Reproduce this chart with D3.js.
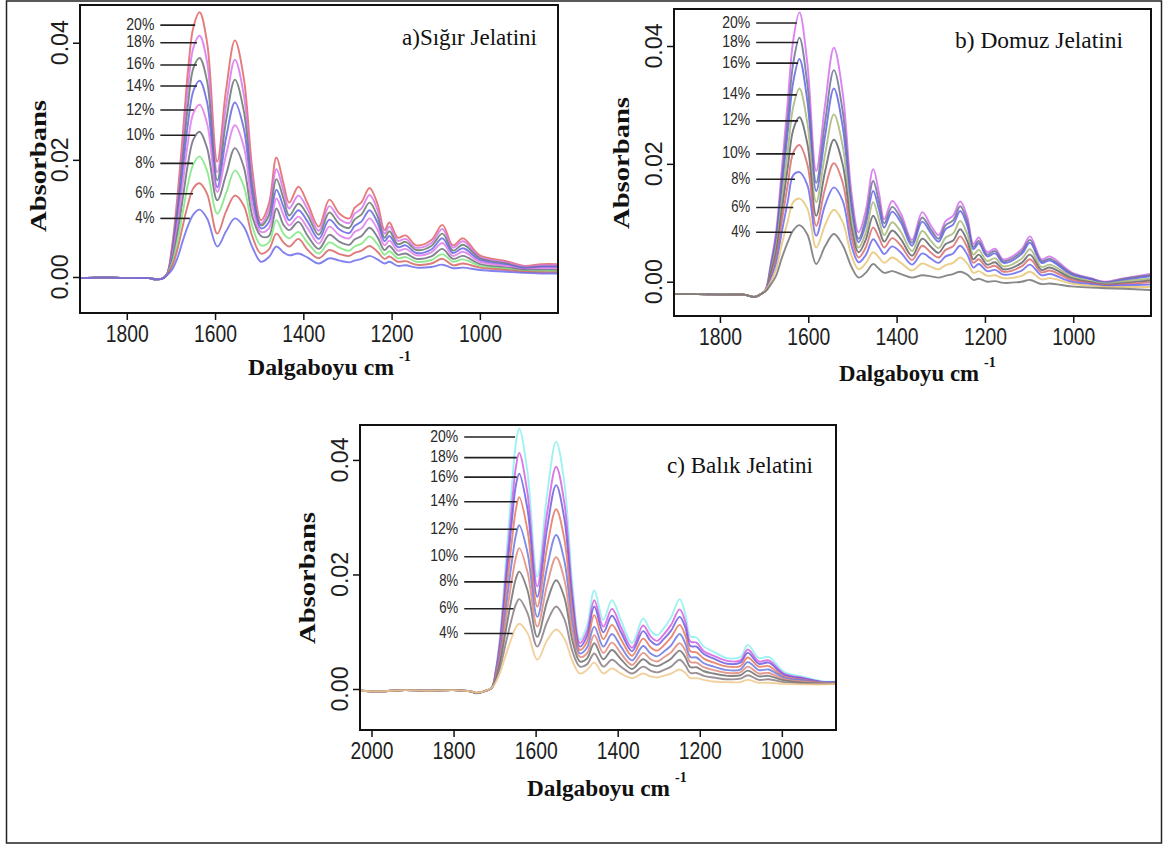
<!DOCTYPE html>
<html><head><meta charset="utf-8">
<script src="https://cdn.jsdelivr.net/npm/d3@7"></script>
<style>body{margin:0;background:#fff}svg{display:block}</style>
</head><body><svg id="chart" width="1168" height="847"></svg>
<script>
// ---------- data ----------
const percentLabels = ["20%","18%","16%","14%","12%","10%","8%","6%","4%"];
const xTicksAB = [1800,1600,1400,1200,1000];
const xTicksC = [2000,1800,1600,1400,1200,1000];
const yTicks = [0.00,0.02,0.04];

// a) Sığır Jelatini
const waveA = [1906,1850,1790,1750,1735,1720,1709,1697,1685,1673,1661,1649,1635,1618,1595,1575,1555,1535,1515,1496,1478,1461,1445,1432,1411,1390,1365,1341,1318,1296,1284,1268,1250,1232,1216,1205,1186,1168,1144,1110,1085,1061,1038,1000,940,900,860,823];
const a20 = [-0.0002,-0.0001,-0.0002,-0.0002,-0.0004,-0.0003,0.0005,0.0055,0.0140,0.0245,0.0355,0.0427,0.0452,0.0400,0.0197,0.0320,0.0404,0.0340,0.0180,0.0097,0.0125,0.0204,0.0160,0.0127,0.0154,0.0125,0.0086,0.0132,0.0108,0.0100,0.0118,0.0128,0.0152,0.0125,0.0080,0.0093,0.0067,0.0071,0.0054,0.0063,0.0089,0.0054,0.0066,0.0037,0.0027,0.0019,0.0022,0.0022];
const a18 = [-0.0002,-0.0001,-0.0002,-0.0002,-0.0004,-0.0003,0.0004,0.0050,0.0128,0.0225,0.0326,0.0392,0.0412,0.0367,0.0179,0.0293,0.0371,0.0312,0.0166,0.0091,0.0115,0.0184,0.0147,0.0117,0.0139,0.0115,0.0079,0.0121,0.0099,0.0092,0.0108,0.0117,0.0140,0.0115,0.0074,0.0086,0.0062,0.0065,0.0050,0.0058,0.0082,0.0050,0.0061,0.0034,0.0025,0.0018,0.0020,0.0020];
const a16 = [-0.0002,-0.0001,-0.0002,-0.0002,-0.0004,-0.0003,0.0004,0.0046,0.0116,0.0205,0.0296,0.0357,0.0374,0.0334,0.0165,0.0267,0.0337,0.0284,0.0151,0.0088,0.0105,0.0167,0.0134,0.0105,0.0125,0.0105,0.0072,0.0110,0.0090,0.0084,0.0098,0.0107,0.0127,0.0104,0.0067,0.0078,0.0056,0.0060,0.0046,0.0053,0.0074,0.0045,0.0055,0.0032,0.0023,0.0016,0.0018,0.0018];
const a14 = [-0.0002,-0.0001,-0.0002,-0.0002,-0.0004,-0.0003,0.0004,0.0041,0.0104,0.0183,0.0264,0.0318,0.0335,0.0298,0.0153,0.0238,0.0298,0.0254,0.0136,0.0083,0.0094,0.0149,0.0120,0.0097,0.0114,0.0094,0.0065,0.0098,0.0081,0.0075,0.0087,0.0095,0.0114,0.0093,0.0061,0.0070,0.0051,0.0054,0.0041,0.0047,0.0066,0.0041,0.0049,0.0029,0.0021,0.0015,0.0017,0.0017];
const a12 = [-0.0002,-0.0001,-0.0002,-0.0002,-0.0004,-0.0003,0.0004,0.0036,0.0091,0.0161,0.0232,0.0280,0.0294,0.0262,0.0145,0.0209,0.0259,0.0223,0.0120,0.0077,0.0083,0.0134,0.0106,0.0088,0.0103,0.0083,0.0057,0.0086,0.0071,0.0066,0.0077,0.0083,0.0100,0.0081,0.0054,0.0062,0.0045,0.0048,0.0037,0.0042,0.0058,0.0036,0.0043,0.0026,0.0019,0.0013,0.0015,0.0015];
const a10 = [-0.0002,-0.0001,-0.0002,-0.0002,-0.0004,-0.0003,0.0004,0.0030,0.0076,0.0135,0.0195,0.0235,0.0248,0.0220,0.0131,0.0175,0.0220,0.0188,0.0102,0.0070,0.0070,0.0117,0.0089,0.0080,0.0094,0.0070,0.0048,0.0072,0.0060,0.0055,0.0064,0.0070,0.0084,0.0068,0.0046,0.0053,0.0038,0.0040,0.0031,0.0035,0.0048,0.0031,0.0036,0.0022,0.0016,0.0012,0.0012,0.0012];
const a8 = [-0.0002,-0.0001,-0.0002,-0.0002,-0.0004,-0.0003,0.0004,0.0024,0.0062,0.0111,0.0160,0.0193,0.0206,0.0181,0.0108,0.0143,0.0182,0.0155,0.0085,0.0054,0.0059,0.0097,0.0074,0.0066,0.0077,0.0058,0.0040,0.0059,0.0050,0.0045,0.0052,0.0057,0.0069,0.0056,0.0038,0.0044,0.0032,0.0034,0.0026,0.0029,0.0039,0.0026,0.0030,0.0019,0.0014,0.0010,0.0010,0.0010];
const a6 = [-0.0002,-0.0001,-0.0002,-0.0002,-0.0004,-0.0003,0.0004,0.0019,0.0048,0.0088,0.0125,0.0152,0.0160,0.0142,0.0074,0.0112,0.0139,0.0122,0.0068,0.0040,0.0047,0.0074,0.0059,0.0052,0.0065,0.0046,0.0032,0.0046,0.0039,0.0036,0.0041,0.0045,0.0053,0.0043,0.0031,0.0035,0.0026,0.0027,0.0021,0.0023,0.0031,0.0020,0.0023,0.0016,0.0012,0.0009,0.0008,0.0008];
const a4 = [-0.0002,-0.0001,-0.0002,-0.0002,-0.0004,-0.0003,0.0003,0.0013,0.0033,0.0062,0.0088,0.0107,0.0115,0.0100,0.0052,0.0078,0.0100,0.0086,0.0050,0.0026,0.0034,0.0052,0.0042,0.0037,0.0040,0.0033,0.0023,0.0032,0.0028,0.0025,0.0028,0.0031,0.0036,0.0030,0.0023,0.0026,0.0019,0.0020,0.0016,0.0017,0.0021,0.0015,0.0016,0.0012,0.0009,0.0007,0.0006,0.0006];
const labelValsA = [0.0430,0.0400,0.0362,0.0326,0.0285,0.0242,0.0194,0.0142,0.0100];
const labelEndsA = [1645,1641,1641,1641,1648,1645,1650,1650,1657];

// b) Domuz Jelatini
const waveB = [1905,1850,1790,1745,1722,1705,1696,1685,1673,1660,1646,1634,1620,1602,1582,1562,1542,1522,1502,1486,1470,1453,1440,1428,1410,1390,1365,1342,1322,1305,1289,1272,1256,1240,1226,1214,1195,1177,1158,1117,1098,1072,1053,1004,960,929,884,826];
const b20 = [-0.0021,-0.0021,-0.0022,-0.0022,-0.0026,-0.0020,-0.0012,0.0030,0.0084,0.0190,0.0310,0.0410,0.0457,0.0370,0.0188,0.0300,0.0397,0.0320,0.0150,0.0084,0.0120,0.0191,0.0151,0.0106,0.0137,0.0115,0.0071,0.0118,0.0095,0.0079,0.0103,0.0112,0.0136,0.0110,0.0064,0.0075,0.0050,0.0056,0.0038,0.0055,0.0077,0.0038,0.0043,0.0016,0.0006,0.0000,0.0006,0.0013];
const b18 = [-0.0021,-0.0021,-0.0022,-0.0022,-0.0026,-0.0020,-0.0014,0.0026,0.0075,0.0172,0.0281,0.0371,0.0414,0.0335,0.0168,0.0271,0.0359,0.0289,0.0135,0.0073,0.0107,0.0171,0.0136,0.0099,0.0127,0.0107,0.0066,0.0109,0.0088,0.0073,0.0096,0.0104,0.0128,0.0102,0.0059,0.0069,0.0046,0.0052,0.0035,0.0051,0.0071,0.0035,0.0039,0.0014,0.0005,-0.0001,0.0005,0.0011];
const b16 = [-0.0021,-0.0021,-0.0022,-0.0022,-0.0026,-0.0020,-0.0014,0.0022,0.0068,0.0157,0.0257,0.0339,0.0378,0.0306,0.0154,0.0247,0.0328,0.0263,0.0123,0.0067,0.0097,0.0154,0.0123,0.0092,0.0119,0.0100,0.0061,0.0102,0.0082,0.0068,0.0089,0.0097,0.0120,0.0095,0.0055,0.0065,0.0043,0.0048,0.0032,0.0047,0.0066,0.0032,0.0036,0.0012,0.0004,-0.0002,0.0003,0.0009];
const b14 = [-0.0021,-0.0021,-0.0022,-0.0022,-0.0026,-0.0020,-0.0014,0.0018,0.0058,0.0138,0.0225,0.0297,0.0328,0.0269,0.0135,0.0216,0.0284,0.0230,0.0106,0.0058,0.0083,0.0135,0.0106,0.0079,0.0101,0.0084,0.0052,0.0086,0.0069,0.0057,0.0075,0.0082,0.0103,0.0081,0.0046,0.0054,0.0035,0.0040,0.0026,0.0039,0.0055,0.0025,0.0029,0.0009,0.0001,-0.0003,0.0001,0.0005];
const b12 = [-0.0021,-0.0021,-0.0022,-0.0022,-0.0026,-0.0020,-0.0014,0.0014,0.0049,0.0120,0.0196,0.0258,0.0279,0.0234,0.0112,0.0187,0.0241,0.0199,0.0091,0.0050,0.0071,0.0112,0.0090,0.0068,0.0087,0.0072,0.0044,0.0073,0.0059,0.0049,0.0064,0.0070,0.0089,0.0069,0.0038,0.0046,0.0029,0.0033,0.0021,0.0032,0.0046,0.0020,0.0024,0.0006,-0.0001,-0.0005,-0.0002,0.0002];
const b10 = [-0.0021,-0.0021,-0.0022,-0.0022,-0.0026,-0.0020,-0.0014,0.0009,0.0040,0.0102,0.0167,0.0219,0.0232,0.0199,0.0095,0.0158,0.0201,0.0168,0.0076,0.0041,0.0058,0.0092,0.0075,0.0058,0.0074,0.0061,0.0037,0.0061,0.0049,0.0041,0.0054,0.0060,0.0077,0.0058,0.0032,0.0038,0.0024,0.0027,0.0017,0.0026,0.0038,0.0016,0.0019,0.0003,-0.0002,-0.0006,-0.0004,-0.0001];
const b8 = [-0.0021,-0.0021,-0.0022,-0.0022,-0.0026,-0.0020,-0.0014,0.0005,0.0031,0.0084,0.0138,0.0181,0.0186,0.0164,0.0078,0.0130,0.0160,0.0137,0.0061,0.0033,0.0045,0.0072,0.0059,0.0047,0.0060,0.0049,0.0029,0.0048,0.0039,0.0032,0.0043,0.0048,0.0061,0.0046,0.0024,0.0030,0.0018,0.0020,0.0012,0.0019,0.0029,0.0011,0.0013,0.0000,-0.0004,-0.0007,-0.0006,-0.0005];
const b6 = [-0.0021,-0.0021,-0.0022,-0.0022,-0.0026,-0.0020,-0.0014,0.0000,0.0021,0.0063,0.0104,0.0135,0.0141,0.0124,0.0058,0.0096,0.0122,0.0101,0.0044,0.0021,0.0031,0.0050,0.0041,0.0032,0.0041,0.0032,0.0019,0.0031,0.0025,0.0021,0.0028,0.0032,0.0041,0.0031,0.0015,0.0018,0.0010,0.0011,0.0006,0.0010,0.0017,0.0004,0.0006,-0.0003,-0.0007,-0.0009,-0.0009,-0.0009];
const b4 = [-0.0021,-0.0021,-0.0022,-0.0022,-0.0026,-0.0020,-0.0016,-0.0005,0.0010,0.0040,0.0068,0.0087,0.0096,0.0080,0.0030,0.0060,0.0081,0.0062,0.0025,0.0007,0.0015,0.0030,0.0022,0.0015,0.0018,0.0013,0.0007,0.0011,0.0009,0.0007,0.0010,0.0013,0.0017,0.0012,0.0003,0.0005,0.0000,0.0001,-0.0002,0.0000,0.0003,-0.0004,-0.0003,-0.0008,-0.0010,-0.0011,-0.0012,-0.0014];
const labelValsB = [0.0439,0.0406,0.0371,0.0317,0.0273,0.0217,0.0174,0.0126,0.0084];
const labelEndsB = [1626,1623,1623,1626,1623,1630,1630,1634,1638];

// c) Balık Jelatini
const waveC = [2028,1980,1920,1860,1800,1760,1745,1725,1707,1697,1687,1671,1658,1648,1640,1620,1596,1572,1550,1530,1510,1492,1475,1457,1435,1414,1392,1365,1338,1320,1304,1288,1270,1249,1235,1223,1208,1190,1166,1133,1101,1083,1056,1032,995,946,897,869];
const c20 = [-0.0003,-0.0004,-0.0002,-0.0003,-0.0002,-0.0004,-0.0008,-0.0004,0.0003,0.0035,0.0091,0.0237,0.0353,0.0430,0.0455,0.0380,0.0196,0.0340,0.0432,0.0360,0.0180,0.0086,0.0110,0.0172,0.0121,0.0155,0.0120,0.0080,0.0123,0.0102,0.0094,0.0106,0.0125,0.0157,0.0130,0.0092,0.0090,0.0074,0.0065,0.0054,0.0056,0.0077,0.0054,0.0056,0.0030,0.0021,0.0013,0.0013];
const c18 = [-0.0003,-0.0004,-0.0002,-0.0003,-0.0002,-0.0004,-0.0007,-0.0004,0.0002,0.0032,0.0083,0.0214,0.0319,0.0388,0.0412,0.0343,0.0179,0.0307,0.0388,0.0325,0.0163,0.0080,0.0100,0.0155,0.0109,0.0140,0.0108,0.0072,0.0111,0.0092,0.0084,0.0095,0.0112,0.0139,0.0117,0.0083,0.0081,0.0066,0.0058,0.0049,0.0050,0.0069,0.0048,0.0050,0.0027,0.0019,0.0012,0.0012];
const c16 = [-0.0003,-0.0004,-0.0002,-0.0003,-0.0002,-0.0004,-0.0007,-0.0004,0.0002,0.0030,0.0077,0.0197,0.0293,0.0356,0.0376,0.0315,0.0161,0.0281,0.0356,0.0297,0.0150,0.0074,0.0092,0.0144,0.0099,0.0128,0.0099,0.0066,0.0101,0.0084,0.0077,0.0087,0.0102,0.0126,0.0107,0.0075,0.0074,0.0061,0.0053,0.0044,0.0046,0.0063,0.0044,0.0046,0.0025,0.0018,0.0012,0.0012];
const c14 = [-0.0003,-0.0004,-0.0002,-0.0003,-0.0002,-0.0004,-0.0007,-0.0004,0.0002,0.0027,0.0068,0.0174,0.0258,0.0314,0.0335,0.0278,0.0144,0.0248,0.0314,0.0262,0.0132,0.0068,0.0082,0.0129,0.0087,0.0112,0.0087,0.0058,0.0088,0.0073,0.0067,0.0076,0.0090,0.0112,0.0093,0.0066,0.0064,0.0053,0.0046,0.0039,0.0040,0.0055,0.0039,0.0040,0.0022,0.0016,0.0011,0.0011];
const c12 = [-0.0003,-0.0004,-0.0002,-0.0003,-0.0002,-0.0004,-0.0007,-0.0004,0.0002,0.0024,0.0060,0.0150,0.0222,0.0269,0.0286,0.0239,0.0126,0.0213,0.0269,0.0224,0.0114,0.0062,0.0072,0.0109,0.0074,0.0096,0.0074,0.0050,0.0075,0.0062,0.0057,0.0065,0.0076,0.0096,0.0079,0.0056,0.0055,0.0045,0.0039,0.0033,0.0034,0.0047,0.0033,0.0034,0.0020,0.0015,0.0011,0.0011];
const c10 = [-0.0003,-0.0004,-0.0002,-0.0003,-0.0002,-0.0004,-0.0007,-0.0004,0.0002,0.0021,0.0052,0.0129,0.0190,0.0230,0.0246,0.0205,0.0109,0.0182,0.0230,0.0191,0.0098,0.0056,0.0062,0.0094,0.0063,0.0081,0.0062,0.0042,0.0063,0.0052,0.0048,0.0055,0.0064,0.0080,0.0067,0.0047,0.0046,0.0038,0.0033,0.0028,0.0029,0.0039,0.0027,0.0028,0.0017,0.0013,0.0010,0.0010];
const c8 = [-0.0003,-0.0004,-0.0002,-0.0003,-0.0002,-0.0004,-0.0007,-0.0004,0.0002,0.0018,0.0045,0.0109,0.0160,0.0193,0.0205,0.0173,0.0091,0.0153,0.0190,0.0160,0.0083,0.0048,0.0053,0.0080,0.0052,0.0068,0.0052,0.0035,0.0052,0.0043,0.0040,0.0045,0.0053,0.0067,0.0055,0.0038,0.0038,0.0031,0.0027,0.0023,0.0024,0.0032,0.0022,0.0023,0.0015,0.0011,0.0009,0.0010];
const c6 = [-0.0003,-0.0004,-0.0002,-0.0003,-0.0002,-0.0004,-0.0007,-0.0004,0.0002,0.0015,0.0036,0.0085,0.0123,0.0148,0.0157,0.0133,0.0074,0.0117,0.0144,0.0122,0.0065,0.0039,0.0043,0.0062,0.0039,0.0051,0.0039,0.0027,0.0039,0.0032,0.0029,0.0033,0.0039,0.0051,0.0041,0.0028,0.0028,0.0023,0.0020,0.0017,0.0018,0.0024,0.0016,0.0017,0.0012,0.0010,0.0009,0.0009];
const c4 = [-0.0003,-0.0004,-0.0002,-0.0003,-0.0002,-0.0004,-0.0006,-0.0004,0.0002,0.0012,0.0028,0.0063,0.0090,0.0108,0.0114,0.0098,0.0051,0.0085,0.0104,0.0088,0.0048,0.0027,0.0033,0.0046,0.0027,0.0036,0.0027,0.0019,0.0027,0.0022,0.0020,0.0023,0.0027,0.0034,0.0028,0.0019,0.0019,0.0016,0.0013,0.0012,0.0012,0.0016,0.0011,0.0011,0.0009,0.0008,0.0008,0.0009];
const labelValsC = [0.0440,0.0404,0.0370,0.0327,0.0279,0.0231,0.0187,0.0140,0.0097];
const labelEndsC = [1650,1646,1646,1646,1646,1654,1656,1654,1656];

// ---------- drawing ----------
const svg = d3.select("#chart");
const SANS = "'Liberation Sans', Arial, sans-serif";
const SERIF = "'Liberation Serif', 'Times New Roman', serif";

svg.append("rect").attr("x",6.5).attr("y",1).attr("width",1155).attr("height",842)
  .attr("fill","none").attr("stroke","#222").attr("stroke-width",1.5);

const defs = svg.append("defs");

function drawPanel(p, idx) {
  const x = d3.scaleLinear().domain(p.xDomain).range([p.x0, p.x1]);
  const y = d3.scaleLinear().domain(p.yDomain).range([p.y1, p.y0]);
  const clipId = "clip" + idx;
  defs.append("clipPath").attr("id", clipId).append("rect")
    .attr("x", p.x0).attr("y", p.y0).attr("width", p.x1 - p.x0).attr("height", p.y1 - p.y0);

  const g = svg.append("g");
  const line = d3.line().x(d => x(d[0])).y(d => y(d[1])).curve(d3.curveCatmullRom.alpha(0.5));
  const lines = g.append("g").attr("clip-path", `url(#${clipId})`);
  p.series.forEach((vals, i) => {
    const pts = p.wave.map((w, k) => [w, vals[k]]);
    lines.append("path").attr("d", line(pts)).attr("fill", "none")
      .attr("stroke", p.colors[i]).attr("stroke-width", 1.9).attr("stroke-opacity", 0.85)
      .attr("stroke-linejoin","round");
  });

  // frame
  g.append("rect").attr("x", p.x0).attr("y", p.y0).attr("width", p.x1 - p.x0).attr("height", p.y1 - p.y0)
    .attr("fill", "none").attr("stroke", "#111").attr("stroke-width", 2);

  // x axis
  const xa = g.append("g").attr("transform", `translate(0,${p.y1})`)
    .call(d3.axisBottom(x).tickValues(p.xTicks).tickSize(7).tickPadding(5).tickFormat(d3.format("d")));
  xa.select(".domain").remove();
  xa.selectAll("line").attr("stroke", "#111").attr("stroke-width", 1.5);
  xa.selectAll("text").attr("font-family", SANS).attr("font-size", 24).attr("fill", "#1e1e1e")
    .attr("dy", "0.71em").attr("textLength", 43).attr("lengthAdjust", "spacingAndGlyphs");

  // y axis
  const ya = g.append("g").attr("transform", `translate(${p.x0},0)`)
    .call(d3.axisLeft(y).tickValues(yTicks).tickSize(7).tickFormat(() => ""));
  ya.select(".domain").remove();
  ya.selectAll("line").attr("stroke", "#111").attr("stroke-width", 1.5);
  yTicks.forEach(t => {
    const bx = p.x0 - 12, by = y(t);
    g.append("text").attr("x", bx).attr("y", by).attr("transform", `rotate(-90,${bx},${by})`)
      .attr("text-anchor", "middle").attr("font-family", SANS).attr("font-size", 24).attr("fill", "#1e1e1e")
      .attr("textLength", 45).attr("lengthAdjust", "spacingAndGlyphs")
      .text(d3.format(".2f")(t));
  });

  // axis titles
  g.append("text").attr("x", p.absX).attr("y", p.absY).attr("transform", `rotate(-90,${p.absX},${p.absY})`)
    .attr("text-anchor", "middle").attr("font-family", SERIF).attr("font-weight", "bold")
    .attr("font-size", 24).attr("fill", "#111").attr("textLength", 132).attr("lengthAdjust", "spacingAndGlyphs")
    .text("Absorbans");
  g.append("text").attr("x", p.xtX).attr("y", p.xtY).attr("font-family", SERIF).attr("font-weight", "bold")
    .attr("font-size", 24).attr("fill", "#111").attr("textLength", p.xtLen).attr("lengthAdjust", "spacingAndGlyphs")
    .text("Dalgaboyu cm");
  g.append("text").attr("x", p.xtX + p.xtLen + 5).attr("y", p.xtY - 14).attr("font-family", SERIF)
    .attr("font-weight", "bold").attr("font-size", 14).attr("fill", "#111").text("-1");

  // panel title
  g.append("text").attr("x", p.tX).attr("y", p.tY).attr("font-family", SERIF).attr("font-size", 24)
    .attr("fill", "#111").attr("textLength", p.tLen).attr("lengthAdjust", "spacingAndGlyphs").text(p.title);

  // concentration labels with leader lines
  const xs = x(p.labelStart);
  percentLabels.forEach((lab, i) => {
    const ly = y(p.labelVals[i]);
    g.append("line").attr("x1", xs).attr("x2", x(p.labelEnds[i])).attr("y1", ly).attr("y2", ly)
      .attr("stroke", "#222").attr("stroke-width", 1.6);
    g.append("text").attr("x", xs - 6).attr("y", ly + 4.5).attr("text-anchor", "end")
      .attr("font-family", SANS).attr("font-size", 17).attr("fill", "#2a2a2a")
      .attr("textLength", lab.length === 3 ? 28 : 19).attr("lengthAdjust", "spacingAndGlyphs").text(lab);
  });
}

drawPanel({
  x0: 80, x1: 558, y0: 5, y1: 313, xDomain: [1906, 823], yDomain: [-0.00615, 0.04644],
  xTicks: xTicksAB, wave: waveA, series: [a20,a18,a16,a14,a12,a10,a8,a6,a4],
  colors: ["#e06464","#d774ee","#66786a","#6464e6","#e07ae8","#6c6c7c","#7ee67e","#d86464","#6c6cec"],
  labelVals: labelValsA, labelEnds: labelEndsA, labelStart: 1724,
  absX: 46, absY: 166, xtX: 248, xtY: 375, xtLen: 146,
  title: "a)Sığır Jelatini", tX: 402, tY: 45, tLen: 135
}, 0);

drawPanel({
  x0: 674, x1: 1151, y0: 9, y1: 316, xDomain: [1904, 824], yDomain: [-0.00582, 0.04628],
  xTicks: xTicksAB, wave: waveB, series: [b20,b18,b16,b14,b12,b10,b8,b6,b4],
  colors: ["#d36ef0","#6c7290","#6262e4","#a6b676","#626468","#d86c6c","#6868f0","#e6c676","#747474"],
  labelVals: labelValsB, labelEnds: labelEndsB, labelStart: 1718,
  absX: 629, absY: 163, xtX: 839, xtY: 381, xtLen: 140,
  title: "b) Domuz Jelatini", tX: 955, tY: 48, tLen: 168
}, 1);

drawPanel({
  x0: 360, x1: 836, y0: 425, y1: 730, xDomain: [2028, 868], yDomain: [-0.00716, 0.0461],
  xTicks: xTicksC, wave: waveC, series: [c20,c18,c16,c14,c12,c10,c8,c6,c4],
  colors: ["#8eeef0","#d45ee0","#6a5ce2","#e6785a","#6a78e2","#e0887a","#707070","#8a7c84","#f0c88c"],
  labelVals: labelValsC, labelEnds: labelEndsC, labelStart: 1774,
  absX: 315, absY: 578, xtX: 527, xtY: 796, xtLen: 143,
  title: "c) Balık Jelatini", tX: 667, tY: 473, tLen: 146
}, 2);
</script>
</body></html>
